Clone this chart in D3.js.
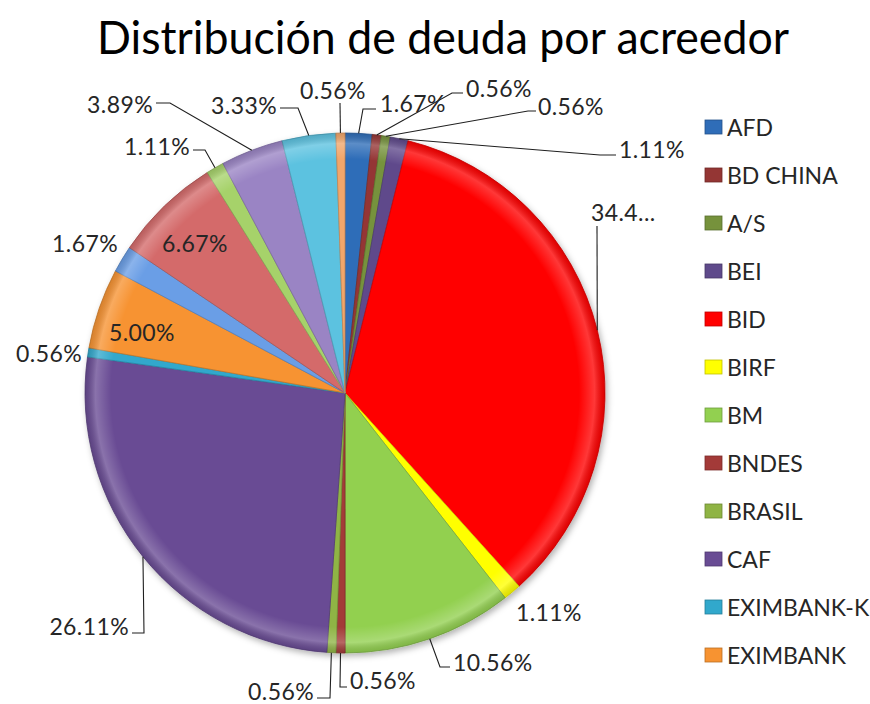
<!DOCTYPE html>
<html>
<head>
<meta charset="utf-8">
<script src="https://cdn.jsdelivr.net/npm/d3@7"></script>
<style>
  body { margin: 0; background: #fff; }
  svg { display: block; }
  text { font-family: Lato, "Open Sans", sans-serif; fill: #262626; }
</style>
</head>
<body>
<svg id="chart" width="870" height="704"></svg>
<script>
// slices, clockwise from 12 o'clock (only the first 12 fit in the legend)
const categories = ['AFD', 'BD CHINA', 'A/S', 'BEI', 'BID', 'BIRF', 'BM', 'BNDES', 'BRASIL', 'CAF',
    'EXIMBANK-K', 'EXIMBANK', 'Otro 1', 'Otro 2', 'Otro 3', 'Otro 4', 'Otro 5', 'Otro 6'];
const shares = [1.67, 0.56, 0.56, 1.11, 34.44, 1.11, 10.56, 0.56, 0.56, 26.11,
    0.56, 5.00, 1.67, 6.67, 1.11, 3.89, 3.33, 0.56];
const shareLabels = ['1.67%', '0.56%', '0.56%', '1.11%', '34.4...', '1.11%', '10.56%', '0.56%', '0.56%', '26.11%',
    '0.56%', '5.00%', '1.67%', '6.67%', '1.11%', '3.89%', '3.33%', '0.56%'];
const colors = ['#2f6db8', '#943634', '#76923c', '#5f4a8b', '#ff0000', '#ffff00', '#92d050', '#a33a38', '#8fb444',
    '#694c94', '#31a8cc', '#f79331', '#6a9ee6', '#d46a6a', '#a6d26a', '#9a84c4', '#5cc2e0', '#f2a66a'];
const legendCount = 12;

// label placement: text anchor point, alignment, leader bend points (leader starts on the slice edge)
const labelLayout = [
    { x: 380, y: 103, a: 'start', pts: [[363, 109], [376, 109]] },
    { x: 466, y: 88, a: 'start', pts: [[452, 93], [463, 93]] },
    { x: 538, y: 106, a: 'start', pts: [[528, 111], [536, 111]] },
    { x: 619, y: 149, a: 'start', pts: [[600, 155], [616, 155]] },
    { x: 591, y: 212, a: 'start', pts: [[597, 226]] },
    { x: 516, y: 612, a: 'start', pts: null },
    { x: 453, y: 662, a: 'start', pts: [[440, 667], [450, 667]] },
    { x: 350, y: 680, a: 'start', pts: [[340, 687], [347, 687]] },
    { x: 314, y: 691, a: 'end', pts: [[330, 698], [317, 698]] },
    { x: 129, y: 626, a: 'end', pts: [[144, 633], [132, 633]] },
    { x: 82, y: 353, a: 'end', pts: null },
    { x: 142, y: 332, a: 'middle', pts: null },
    { x: 118, y: 243, a: 'end', pts: null },
    { x: 195, y: 243, a: 'middle', pts: null },
    { x: 190, y: 146, a: 'end', pts: [[205, 150], [193, 150]] },
    { x: 153, y: 104, a: 'end', pts: [[170, 103], [156, 103]] },
    { x: 277, y: 105, a: 'end', pts: [[298, 108], [280, 108]] },
    { x: 333, y: 90, a: 'middle', pts: [[340, 103]] }
];

const cx = 345, cy = 393, radius = 260;

const svg = d3.select('#chart');
const defs = svg.append('defs');

const shadow = defs.append('filter').attr('id', 'shadow')
    .attr('x', '-10%').attr('y', '-10%').attr('width', '120%').attr('height', '120%');
shadow.append('feDropShadow')
    .attr('dx', 2).attr('dy', 3).attr('stdDeviation', 3)
    .attr('flood-color', '#000').attr('flood-opacity', 0.3);

const rim = defs.append('radialGradient').attr('id', 'rim')
    .attr('gradientUnits', 'userSpaceOnUse')
    .attr('cx', 0).attr('cy', 0).attr('r', radius);
rim.append('stop').attr('offset', '0%').attr('stop-color', '#fff').attr('stop-opacity', 0);
rim.append('stop').attr('offset', '90%').attr('stop-color', '#fff').attr('stop-opacity', 0);
rim.append('stop').attr('offset', '96%').attr('stop-color', '#fff').attr('stop-opacity', 0.22);
rim.append('stop').attr('offset', '100%').attr('stop-color', '#000').attr('stop-opacity', 0.12);

// title
svg.append('text')
    .attr('x', 443)
    .attr('y', 54)
    .attr('text-anchor', 'middle')
    .attr('textLength', 692)
    .attr('lengthAdjust', 'spacingAndGlyphs')
    .style('font-size', '46px')
    .style('fill', '#000')
    .text('Distribución de deuda por acreedor');

const data = categories.map((c, i) => ({ name: c, value: shares[i], label: shareLabels[i], color: colors[i], layout: labelLayout[i] }));

const pie = d3.pie()
    .sort(null)
    .value(d => d.value);

const arc = d3.arc()
    .innerRadius(0)
    .outerRadius(radius);

const arcs = pie(data);

const g = svg.append('g')
    .attr('transform', `translate(${cx}, ${cy})`);

g.append('g')
    .attr('filter', 'url(#shadow)')
    .selectAll('path')
    .data(arcs)
    .enter()
    .append('path')
    .attr('d', arc)
    .attr('fill', d => d.data.color)
    .attr('stroke', d => d3.color(d.data.color).darker(0.6))
    .attr('stroke-width', 0.8);

// bevel-like rim
g.append('circle')
    .attr('r', radius)
    .attr('fill', 'url(#rim)')
    .style('pointer-events', 'none');

// leader lines
const edgePoint = d => {
    const a = (d.startAngle + d.endAngle) / 2;
    return [cx + radius * Math.sin(a), cy - radius * Math.cos(a)];
};

svg.append('g')
    .selectAll('polyline')
    .data(arcs.filter(d => d.data.layout.pts))
    .enter()
    .append('polyline')
    .attr('points', d => [edgePoint(d)].concat(d.data.layout.pts).map(p => p.join(',')).join(' '))
    .attr('fill', 'none')
    .attr('stroke', '#1f1f1f')
    .attr('stroke-width', 1.1);

svg.append('g')
    .selectAll('text')
    .data(arcs)
    .enter()
    .append('text')
    .attr('x', d => d.data.layout.x)
    .attr('y', d => d.data.layout.y)
    .attr('text-anchor', d => d.data.layout.a)
    .attr('dominant-baseline', 'central')
    .style('font-size', '23px')
    .style('letter-spacing', '0.4px')
    .text(d => d.data.label);

// legend
const legendY = d3.scalePoint()
    .domain(categories.slice(0, legendCount))
    .range([127, 655]);

const legend = svg.append('g');
const items = legend.selectAll('g')
    .data(data.slice(0, legendCount))
    .enter()
    .append('g')
    .attr('transform', d => `translate(705, ${legendY(d.name)})`);

items.append('rect')
    .attr('x', 0)
    .attr('y', -7)
    .attr('width', 17)
    .attr('height', 14)
    .attr('fill', d => d.color)
    .attr('stroke', d => d3.color(d.color).darker(0.8))
    .attr('stroke-width', 0.8);

items.append('text')
    .attr('x', 22)
    .attr('y', 0)
    .attr('dominant-baseline', 'central')
    .style('font-size', '23px')
    .text(d => d.name);
</script>
</body>
</html>
